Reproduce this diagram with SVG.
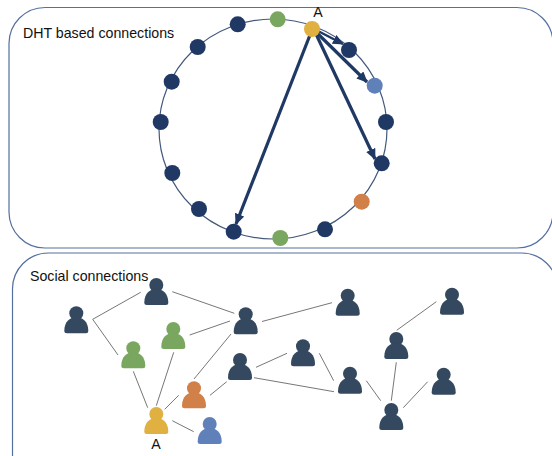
<svg xmlns="http://www.w3.org/2000/svg" width="552" height="456" viewBox="0 0 552 456">
<style>
.panel{fill:#fff;stroke:#5470a0;stroke-width:1.2}
.ring{fill:none;stroke:#44587c;stroke-width:1.2}
.navy{fill:#1f3864}.green{fill:#7aa75f}.gold{fill:#e0b040}.blue{fill:#5f80b8}.orange{fill:#d08048}
.slate{fill:#34495f}
.t{font-family:"Liberation Sans",Arial,sans-serif;font-size:14.2px;fill:#111}
.link{stroke:#777;stroke-width:1;fill:none}
.arrow{stroke:#1f3864;stroke-width:3.2;fill:none;marker-end:url(#ah)}
</style>
<defs>
<marker id="ah" markerUnits="userSpaceOnUse" markerWidth="14" markerHeight="12" refX="10" refY="5" orient="auto"><path d="M0 0L11 5L0 10Z" fill="#1f3864"/></marker>
<g id="p"><circle cx="0" cy="0" r="7"/><path d="M-12 17.500C-12 8-6 4 0 4C6 4 12 8 12 17.500Q12 20 9.500 20H-9.500Q-12 20-12 17.500Z"/></g>
</defs>
<g id="panel-dht"><rect class="panel" x="9" y="7.500" width="544" height="240.500" rx="36"/><text class="t" x="23" y="38">DHT based connections</text></g>
<g id="panel-social"><rect class="panel" x="12.500" y="253" width="545" height="260" rx="36"/><text class="t" x="30" y="281">Social connections</text></g>
<ellipse class="ring" cx="273" cy="129" rx="114" ry="110"/>
<g id="connectors">
<path class="arrow" d="M310 35L236 224"/>
<path class="arrow" d="M316 34L375 159"/>
<path class="arrow" d="M317 33L367 82"/>
<path class="arrow" style="stroke-width:2.4" d="M318 31L343 44"/>
<path class="link" d="M140.700 292.300L92.700 319.300L118 355M172.300 291.700L234.300 313.300M189.700 335L230 321M133.300 371.300L147.700 407.700M173.700 352.300L156.300 405.700M231 334L194 379M164.700 409.300L178.700 395.300M210 395.300L226.700 381.700M172.300 420.700L193.700 431.700M262 321.500L332 302.700M256 367.300L287 353.300M254 377.700L334 391.700M319.300 353.300L333.700 380.700M366.300 380.700L380.700 400.700M396.300 362.300L391.300 400.700M403.300 407.700L427.700 381.700M396.700 330.300L436.300 301.700"/>
</g>
<g id="ring-nodes">
<circle id="r1" class="green" cx="277.700" cy="19.300" r="8"/>
<circle id="r2" class="navy" cx="237.700" cy="24.300" r="8"/>
<circle id="r3" class="navy" cx="197.700" cy="47" r="8"/>
<circle id="r4" class="navy" cx="171.700" cy="81.700" r="8"/>
<circle id="r5" class="navy" cx="160.700" cy="122" r="8"/>
<circle id="r6" class="navy" cx="172.300" cy="173" r="8"/>
<circle id="r7" class="navy" cx="199" cy="209" r="8"/>
<circle id="r8" class="navy" cx="233.700" cy="231.700" r="8"/>
<circle id="r9" class="green" cx="280.300" cy="238" r="8"/>
<circle id="r10" class="navy" cx="325" cy="229.300" r="8"/>
<circle id="r11" class="orange" cx="361.700" cy="201.700" r="8"/>
<circle id="r12" class="navy" cx="381.700" cy="163.300" r="8"/>
<circle id="r13" class="navy" cx="386" cy="122" r="8"/>
<circle id="r14" class="blue" cx="374.700" cy="85.700" r="8"/>
<circle id="r15" class="navy" cx="349" cy="50" r="8"/>
<circle id="r16" class="gold" cx="312" cy="29" r="8"/>
<text class="t" x="318" y="17" text-anchor="middle">A</text>
</g>
<g id="people">
<use id="s1" href="#p" class="slate" x="156.300" y="285"/>
<use id="s2" href="#p" class="slate" x="76.300" y="313.300"/>
<use id="s3" href="#p" class="green" x="133.300" y="348.300"/>
<use id="s4" href="#p" class="green" x="173.300" y="329"/>
<use id="s5" href="#p" class="slate" x="245.700" y="314.300"/>
<use id="s6" href="#p" class="slate" x="240" y="360"/>
<use id="s7" href="#p" class="orange" x="194" y="388.300"/>
<use id="s8" href="#p" class="gold" x="156.300" y="414"/>
<use id="s9" href="#p" class="blue" x="209.700" y="424"/>
<use id="s10" href="#p" class="slate" x="347.700" y="295.700"/>
<use id="s11" href="#p" class="slate" x="452" y="294.700"/>
<use id="s12" href="#p" class="slate" x="396.300" y="339"/>
<use id="s13" href="#p" class="slate" x="303" y="346.300"/>
<use id="s14" href="#p" class="slate" x="350" y="373.700"/>
<use id="s15" href="#p" class="slate" x="443.700" y="374.700"/>
<use id="s16" href="#p" class="slate" x="391.300" y="410"/>
<text class="t" x="156" y="449" text-anchor="middle">A</text>
</g>
</svg>
